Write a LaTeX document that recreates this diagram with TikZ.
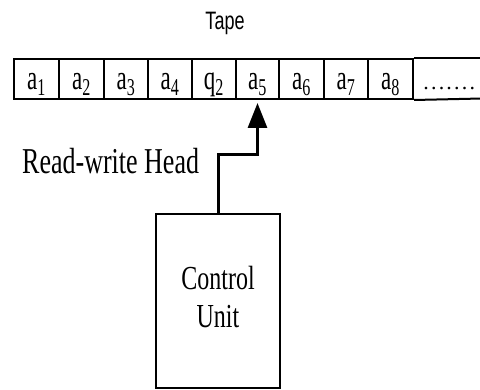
\documentclass[tikz,border=0pt]{standalone}
\usepackage{fontspec}
\usepackage{graphicx}
\setmainfont{Liberation Serif}
\newfontfamily\tapefont{Liberation Sans}
\usetikzlibrary{arrows.meta}
\newcommand\talltxt[1]{\scalebox{1}[1.4]{#1}}
\newcommand\celltxt[1]{\scalebox{1}[1.5]{#1}}
\begin{document}
\begin{tikzpicture}[x=1pt,y=-1pt,
  cellbox/.style={draw, line width=2pt, minimum height=40pt, inner sep=0pt, anchor=north west,
     text height=22pt, text depth=0pt, font=\fontsize{23}{25}\selectfont},
  unitbox/.style={draw, line width=2.5pt, minimum width=124pt, minimum height=174pt, inner sep=0pt},
  label/.style={inner sep=0pt, font=\fontsize{26}{28}\selectfont},
  head/.style={line width=3pt, -{Triangle[length=25pt,width=19pt]}, shorten >=3pt}]
\useasboundingbox (0,0) rectangle (480,390);
\fill[white] (0,0) rectangle (480,390);
\node[inner sep=0pt, font=\tapefont\fontsize{18}{20}\selectfont] (tape) at (225,23) {\talltxt{Tape}};
\node[cellbox, minimum width=45pt] (c1) at (13,58) {\celltxt{a\textsubscript{1}}};
\node[cellbox, minimum width=45pt] (c2) at (58,58) {\celltxt{a\textsubscript{2}}};
\node[cellbox, minimum width=44pt] (c3) at (103,58) {\celltxt{a\textsubscript{3}}};
\node[cellbox, minimum width=44pt] (c4) at (147,58) {\celltxt{a\textsubscript{4}}};
\node[cellbox, minimum width=44pt] (c5) at (191,58) {\celltxt{q\textsubscript{2}}};
\node[cellbox, minimum width=43pt] (c6) at (235,58) {\celltxt{a\textsubscript{5}}};
\node[cellbox, minimum width=45pt] (c7) at (278,58) {\celltxt{a\textsubscript{6}}};
\node[cellbox, minimum width=44pt] (c8) at (323,58) {\celltxt{a\textsubscript{7}}};
\node[cellbox, minimum width=45pt] (c9) at (367,58) {\celltxt{a\textsubscript{8}}};
\node[inner sep=0pt, minimum height=40pt, minimum width=74pt, anchor=north west,
  text height=22pt, text depth=0pt, font=\fontsize{22}{24}\selectfont] (c10) at (412,58)
  {.\kern2.2pt.\kern2.2pt.\kern2.2pt.\kern2.2pt.\kern2.2pt.\kern2.2pt.};
\draw[line width=2pt] (c9.north east) -- (c10.north east);
\draw[line width=2pt] (c9.south east) -- (c10.south east);
\node[unitbox] (cu) at (218,301) {\talltxt{\fontsize{24}{27}\selectfont\begin{tabular}{@{}c@{}}Control\\Unit\end{tabular}}};
\node[label, anchor=west] (rw) at (22,161) {\talltxt{Read-write Head}};
\coordinate (bend) at (c6.south |- 0,155);
\draw[head] (cu.north) |- (bend) -- (c6.south);
\end{tikzpicture}
\end{document}
